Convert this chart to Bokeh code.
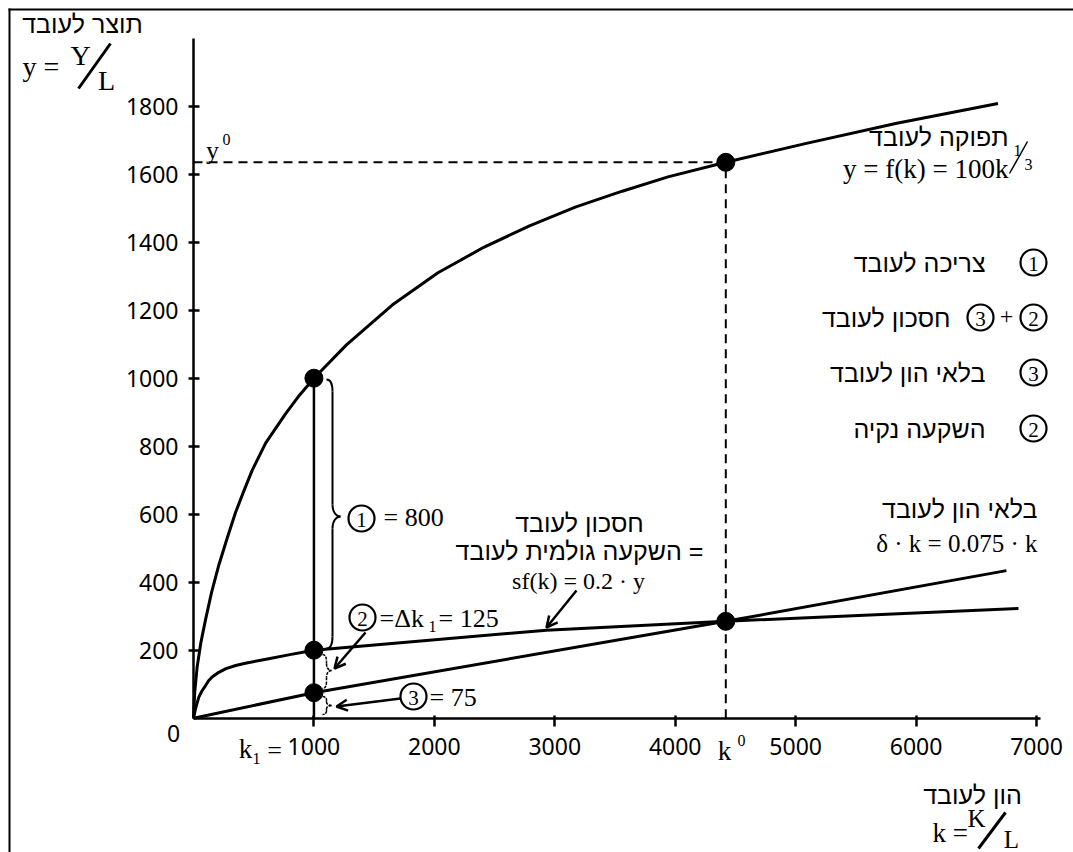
from bokeh.plotting import figure
from bokeh.models import FixedTicker, Arrow, OpenHead
from bokeh.core.properties import value
from bokeh.embed import file_html
from bokeh.resources import INLINE

# ---------------- data ----------------
# output per worker y = f(k)
k_output = [0, 10, 30, 60, 100, 150, 210, 280, 349, 420, 487, 600, 764, 880, 1000,
            1270, 1650, 2030, 2410, 2790, 3170, 3560, 3940, 4420, 5080, 5840, 6680]
y_output = [0, 75, 150, 220, 290, 370, 450, 530, 605, 670, 729, 810, 895, 950, 1000,
            1098, 1215, 1310, 1385, 1448, 1503, 1550, 1592, 1635, 1690, 1750, 1808]
# saving per worker sf(k)
k_saving = [0, 17, 44, 70, 100, 125, 155, 210, 270, 350, 450, 625, 800, 1000,
            2930, 4420, 6850]
y_saving = [0, 28, 62, 80, 96, 110, 121, 135, 146, 155, 163, 175, 187, 200,
            259, 285, 323]
# depreciation per worker delta*k
k_depr = [0, 1000, 4420, 6750]
y_depr = [0, 75, 285, 434]

k_1 = 1000
output_k1 = 1000
saving_k1 = 200
depr_k1 = 75
k_star = 4420
output_star = 1635
saving_star = 285

x_ticks = [1000, 2000, 3000, 4000, 5000, 6000, 7000]
y_ticks = [200, 400, 600, 800, 1000, 1200, 1400, 1600, 1800]

legend_texts = ["צריכה לעובד", "חסכון לעובד", "בלאי הון לעובד", "השקעה נקיה"]

# ---------------- geometry ----------------
W, H = 1073, 852
X0_PX, Y0_PX = 193.0, 717.7      # canvas position of the origin
PX_K, PX_Y = 0.12043, 0.34       # pixels per data unit

SERIF = "Liberation Serif"
HEB = "Liberation Sans"
NUM = "Noto Sans"

p = figure(width=W, height=H, output_backend="svg", toolbar_location=None,
           x_range=(-X0_PX / PX_K, (W - X0_PX) / PX_K),
           y_range=((Y0_PX - H) / PX_Y, Y0_PX / PX_Y),
           min_border=0)
p.title.visible = False
p.outline_line_color = None
p.xgrid.visible = False
p.ygrid.visible = False
p.background_fill_color = "white"
p.border_fill_color = "white"


def ax(px):
    """canvas pixel x -> data x (annotation placement)"""
    return (px - X0_PX) / PX_K


def ay(py):
    """canvas pixel y -> data y (annotation placement)"""
    return (Y0_PX - py) / PX_Y


# axes through the origin
for axis in (p.xaxis, p.yaxis):
    axis.fixed_location = 0
    axis.axis_line_width = 2.5
    axis.axis_line_color = "black"
    axis.major_tick_line_width = 2.5
    axis.major_tick_line_color = "black"
    axis.minor_tick_line_color = None
    axis.major_label_text_font = NUM
    axis.major_label_text_font_size = "23px"
    axis.major_label_text_color = "black"

p.xaxis.ticker = FixedTicker(ticks=x_ticks)
p.yaxis.ticker = FixedTicker(ticks=y_ticks)
p.xaxis.bounds = (0, 7030)
p.yaxis.bounds = (0, 2000)
p.xaxis.major_tick_in = 3
p.xaxis.major_tick_out = 8
p.xaxis.major_label_standoff = 12
p.yaxis.major_tick_in = 6
p.yaxis.major_tick_out = 5
p.yaxis.major_label_standoff = 10

# frame lines of the picture (top and left)
p.segment(x0=[ax(8), ax(9)], y0=[ay(9), ay(8)], x1=[ax(1080), ax(9)], y1=[ay(9), ay(860)],
          line_color="black", line_width=2)

# dashed guides to the steady state
p.line([0, k_star], [output_star, output_star], line_color="black", line_width=2, line_dash="9 6")
p.line([k_star, k_star], [0, output_star], line_color="black", line_width=2, line_dash="9 6")

# vertical at k1
p.line([k_1, k_1], [0, output_k1], line_color="black", line_width=2.5)

# curves
p.line(k_output, y_output, line_color="black", line_width=3, line_join="round")
p.line(k_saving, y_saving, line_color="black", line_width=3, line_join="round")
p.line(k_depr, y_depr, line_color="black", line_width=3, line_join="round")

# points
p.scatter([k_1, k_1, k_1, k_star, k_star],
          [output_k1, saving_k1, depr_k1, output_star, saving_star],
          size=18, marker="circle", fill_color="black", line_color="black")


def txt(px, py, s, size, font=SERIF, align="left", baseline="middle"):
    p.text(x=[ax(px)], y=[ay(py)], text=[s], text_font=value(font),
           text_font_size=f"{size}px", text_align=align, text_baseline=baseline,
           text_color="black")


def seg(x0, y0, x1, y1, w=2.5):
    p.segment(x0=[ax(x0)], y0=[ay(y0)], x1=[ax(x1)], y1=[ay(y1)], line_color="black", line_width=w)


def circ(px, py, digit, d=26):
    p.scatter([ax(px)], [ay(py)], size=d, marker="circle", fill_color="white",
              line_color="black", line_width=2.2)
    txt(px, py + 1, digit, 21, SERIF, "center")


def brace(xb, top, bot, tip_y, w=6, tip=8, lw=2.0, dash="solid"):
    r = min(12, (bot - top) / 5)
    segs = [
        (xb - w, top, xb - 1, top, xb, top + r / 2, xb, top + r),
        (xb, top + r, xb, top + r, xb, tip_y - r, xb, tip_y - r),
        (xb, tip_y - r, xb, tip_y - r / 3, xb + tip / 2, tip_y, xb + tip, tip_y),
        (xb + tip, tip_y, xb + tip / 2, tip_y, xb, tip_y + r / 3, xb, tip_y + r),
        (xb, tip_y + r, xb, tip_y + r, xb, bot - r, xb, bot - r),
        (xb, bot - r, xb, bot - r / 2, xb - 1, bot, xb - w, bot),
    ]
    for (x0, y0, cx0, cy0, cx1, cy1, x1, y1) in segs:
        p.bezier(x0=[ax(x0)], y0=[ay(y0)], x1=[ax(x1)], y1=[ay(y1)],
                 cx0=[ax(cx0)], cy0=[ay(cy0)], cx1=[ax(cx1)], cy1=[ay(cy1)],
                 line_color="black", line_width=lw, line_dash=dash)


def arrow(x0, y0, x1, y1):
    p.add_layout(Arrow(end=OpenHead(size=11, line_width=2.5, line_color="black"),
                       x_start=ax(x0), y_start=ay(y0), x_end=ax(x1), y_end=ay(y1),
                       line_width=2.5, line_color="black"))


# ---- top-left axis title ----
txt(82, 23, "תוצר לעובד", 25, HEB, "center")
txt(22, 66, "y =", 28, SERIF, "left")
txt(80, 55, "Y", 28, SERIF, "center")
seg(78, 88, 110, 43, 3)
txt(106, 80, "L", 28, SERIF, "center")

# y0 label
txt(212, 150, "y", 26, SERIF, "center")
txt(226, 139, "0", 16, SERIF, "center")

# origin and k labels
txt(173, 733, "0", 23, NUM, "center")
txt(245, 748, "k", 27, SERIF, "center")
txt(256, 758, "1", 16, SERIF, "center")
txt(274, 750, "=", 26, SERIF, "center")
txt(724, 750, "k", 27, SERIF, "center")
txt(741, 740, "0", 16, SERIF, "center")

# ---- braces & numbered annotations at k1 ----
brace(332, 379, 648, 516)
brace(326, 654, 688, 670, w=4, tip=5, lw=1.5, dash="3 1")
brace(326, 696, 714, 705, w=4, tip=5, lw=1.5, dash="3 1")

circ(361, 518, "1")
txt(383, 517, "= 800", 26, SERIF, "left")

circ(362, 617, "2")
txt(379, 618, "=Δk", 26, SERIF, "left")
txt(428, 626, "1", 16, SERIF, "left")
txt(438, 618, "= 125", 26, SERIF, "left")
arrow(365, 632, 334, 668)

circ(413, 696, "3")
txt(429, 697, "= 75", 26, SERIF, "left")
arrow(400, 698, 336, 706)

# ---- saving text block ----
txt(579, 522, "חסכון לעובד", 25, HEB, "center")
txt(579, 550, "השקעה גולמית לעובד =", 25, HEB, "center")
txt(578, 580, "sf(k) = 0.2 · y", 24, SERIF, "center")
arrow(576, 590, 546, 627)

# ---- production function label ----
txt(1008, 136, "תפוקה לעובד", 25, HEB, "right")
txt(1008, 168, "y = f(k) = 100k", 27, SERIF, "right")
txt(1017, 150, "1", 16, SERIF, "center")
seg(1009, 173, 1027, 141, 1.5)
txt(1028, 164, "3", 16, SERIF, "center")

# ---- depreciation label ----
txt(1037, 508, "בלאי הון לעובד", 25, HEB, "right")
txt(1037, 543, "δ · k = 0.075 · k", 25, SERIF, "right")

# ---- legend on the right ----
circ(1033, 262, "1")
txt(985, 262, legend_texts[0], 25, HEB, "right")
circ(1033, 317, "2")
txt(1006, 316, "+", 24, SERIF, "center")
circ(980, 317, "3")
txt(950, 317, legend_texts[1], 25, HEB, "right")
circ(1033, 372, "3")
txt(985, 372, legend_texts[2], 25, HEB, "right")
circ(1033, 428, "2")
txt(985, 428, legend_texts[3], 25, HEB, "right")

# ---- x axis title ----
txt(972, 794, "הון לעובד", 25, HEB, "center")
txt(932, 832, "k =", 27, SERIF, "left")
txt(976, 818, "K", 25, SERIF, "center")
seg(978, 848, 1005, 812, 3)
txt(1011, 839, "L", 25, SERIF, "center")

open("out.html", "w").write(file_html(p, INLINE))
